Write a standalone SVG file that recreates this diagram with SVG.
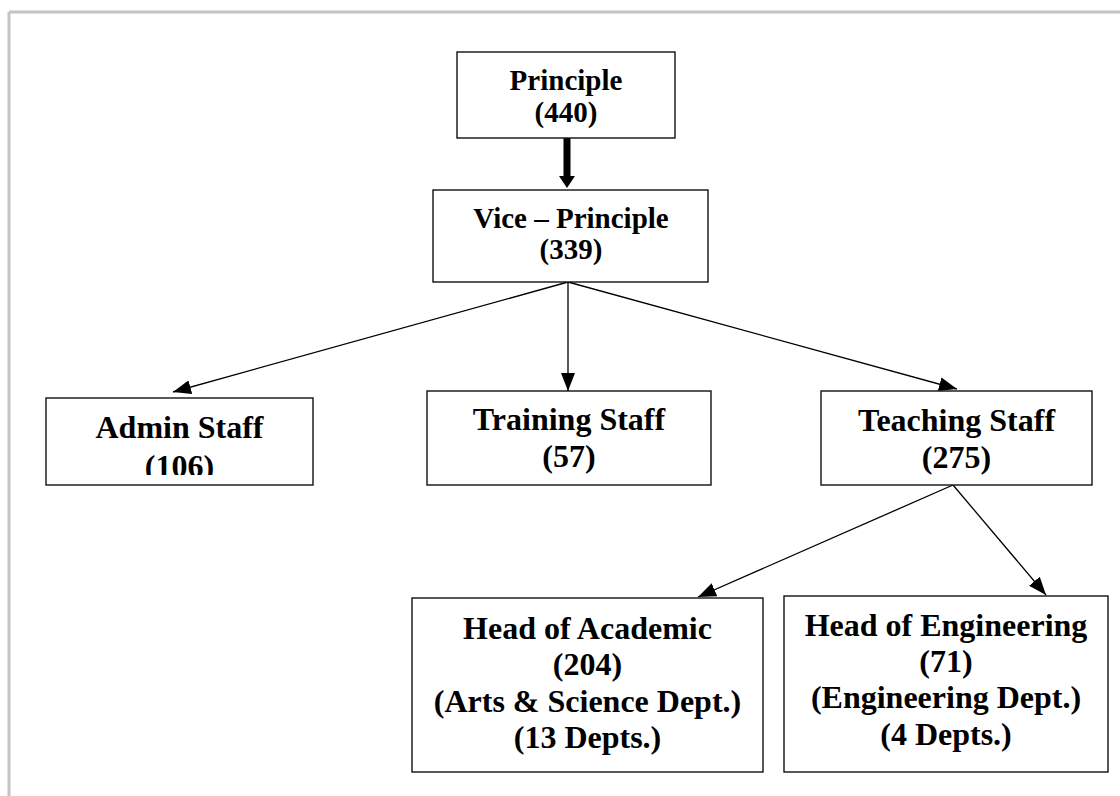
<svg xmlns="http://www.w3.org/2000/svg" width="1120" height="796" viewBox="0 0 1120 796">
<defs>
<style>
.box{fill:#fff;stroke:#111;stroke-width:1.4}
.t{font-family:"Liberation Serif","Times New Roman",serif;font-weight:bold;font-size:32px;fill:#000;text-anchor:middle}
.s{font-size:29px}
.c{stroke:#000;stroke-width:1.3;fill:none}
</style>
<marker id="ah" markerUnits="userSpaceOnUse" markerWidth="18" markerHeight="14" refX="18" refY="7" orient="auto" viewBox="0 0 18 14">
<path d="M0,0 L18,7 L0,14 Z" fill="#000"/>
</marker>
<clipPath id="adminClip"><rect x="46" y="398" width="267" height="77"/></clipPath>
</defs>
<rect width="1120" height="796" fill="#fff"/>
<g id="frame">
<line x1="9" y1="12" x2="1120" y2="12" stroke="#c4c4c4" stroke-width="3"/>
<line x1="9" y1="12" x2="9" y2="796" stroke="#c4c4c4" stroke-width="3"/>
</g>
<g id="connectors">
<rect x="563.5" y="138" width="7" height="39" fill="#000"/>
<polygon points="559,176 575,176 567,188" fill="#000"/>
<line class="c" x1="568" y1="282" x2="173" y2="392" marker-end="url(#ah)"/>
<line class="c" x1="568" y1="282" x2="568" y2="391" marker-end="url(#ah)"/>
<line class="c" x1="568" y1="282" x2="957" y2="389" marker-end="url(#ah)"/>
<line class="c" x1="953" y1="485" x2="698" y2="597" marker-end="url(#ah)"/>
<line class="c" x1="953" y1="485" x2="1046" y2="595" marker-end="url(#ah)"/>
</g>
<g id="principle">
<rect class="box" x="457" y="52" width="218" height="86"/>
<text class="t s" x="566" y="90">Principle</text>
<text class="t s" x="566" y="122">(440)</text>
</g>
<g id="vice-principle">
<rect class="box" x="433" y="190" width="275" height="92"/>
<text class="t s" x="571" y="228">Vice – Principle</text>
<text class="t s" x="571" y="259">(339)</text>
</g>
<g id="admin-staff">
<rect class="box" x="46" y="398" width="267" height="87"/>
<g clip-path="url(#adminClip)">
<text class="t" x="179.5" y="438">Admin Staff</text>
<text class="t" x="179.5" y="477">(106)</text>
</g>
</g>
<g id="training-staff">
<rect class="box" x="427" y="391" width="284" height="94"/>
<text class="t" x="569" y="430">Training Staff</text>
<text class="t" x="569" y="467">(57)</text>
</g>
<g id="teaching-staff">
<rect class="box" x="821" y="391" width="271" height="94"/>
<text class="t" x="956.5" y="431">Teaching Staff</text>
<text class="t" x="956.5" y="468">(275)</text>
</g>
<g id="head-academic">
<rect class="box" x="412" y="598" width="351" height="174"/>
<text class="t" x="587.5" y="639">Head of Academic</text>
<text class="t" x="587.5" y="675">(204)</text>
<text class="t" x="587.5" y="712">(Arts &amp; Science Dept.)</text>
<text class="t" x="587.5" y="748">(13 Depts.)</text>
</g>
<g id="head-engineering">
<rect class="box" x="784" y="596" width="324" height="176"/>
<text class="t" x="946" y="636">Head of Engineering</text>
<text class="t" x="946" y="672">(71)</text>
<text class="t" x="946" y="708">(Engineering Dept.)</text>
<text class="t" x="946" y="745">(4 Depts.)</text>
</g>
</svg>
